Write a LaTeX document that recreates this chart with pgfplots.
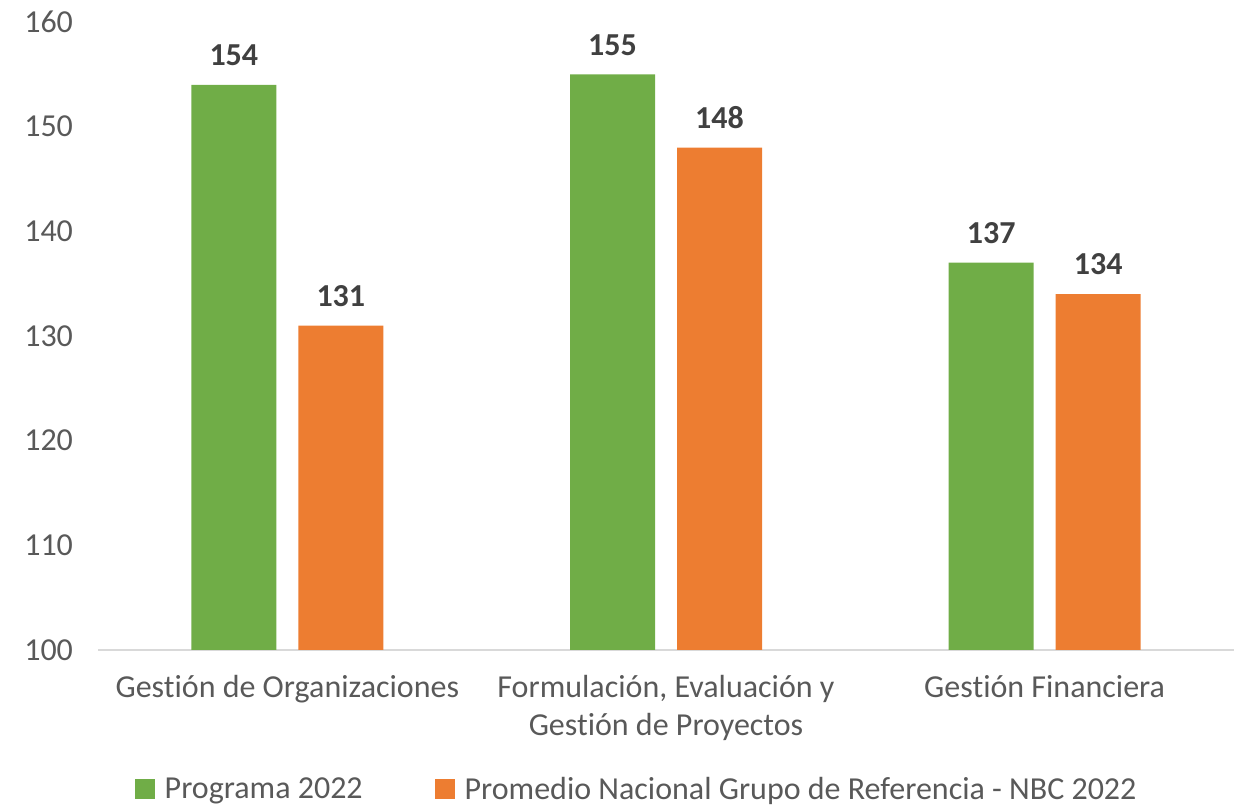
\documentclass[border=0pt]{standalone}
\usepackage{pgfplots}
\pgfplotsset{compat=1.18}
\usepackage{fontspec}
\setmainfont{Carlito}[Ligatures=NoCommon]
\usetikzlibrary{calc}
\definecolor{cgreen}{HTML}{70AD47}
\definecolor{corange}{HTML}{ED7D31}
\definecolor{ctext}{HTML}{595959}
\definecolor{clabel}{HTML}{404040}
\definecolor{caxis}{HTML}{D9D9D9}
\begin{document}
\begin{tikzpicture}
\begin{axis}[
  name=ax,
  width=568pt, height=314pt,
  scale only axis,
  xmin=-0.5, xmax=2.5,
  ymin=100, ymax=160,
  ytick={100,110,...,160},
  xtick={0,1,2},
  xticklabels={Gestión de Organizaciones, {Formulación, Evaluación y\\Gestión de Proyectos}, Gestión Financiera},
  axis x line=bottom, axis y line=left,
  x axis line style={-, draw=caxis, line width=1pt},
  y axis line style={draw=none},
  major tick length=0pt,
  tick style={draw=none},
  /pgf/number format/assume math mode=true,
  ticklabel style={font=\fontsize{16}{19}\selectfont, text=ctext},
  xticklabel style={align=center, yshift=-9pt},
  yticklabel style={xshift=-9pt},
  ybar, bar width=42.5pt,
  nodes near coords,
  nodes near coords style={font=\fontsize{16}{19}\selectfont\bfseries, text=clabel, yshift=6pt},
  legend style={at={(axis description cs:0.475,-0.222)}, anchor=center, draw=none, fill=none,
    legend columns=2, font=\fontsize{16}{19}\selectfont, text=ctext,
    /tikz/every even column/.append style={column sep=34pt}},
  legend image code/.code={\fill[#1] (0pt,-5pt) rectangle (10pt,5pt); \path (13pt,0pt);},
]
\addplot[fill=cgreen, draw=none, bar shift=-26.75pt] coordinates {(0,154) (1,155) (2,137)};
\addplot[fill=corange, draw=none, bar shift=26.75pt] coordinates {(0,131) (1,148) (2,134)};
\legend{Programa 2022, Promedio Nacional Grupo de Referencia - NBC 2022}
\end{axis}
\pgfresetboundingbox
\path ($(ax.south west)+(-49pt,-78pt)$) rectangle ($(ax.north east)+(0pt,11pt)$);
\end{tikzpicture}
\end{document}
